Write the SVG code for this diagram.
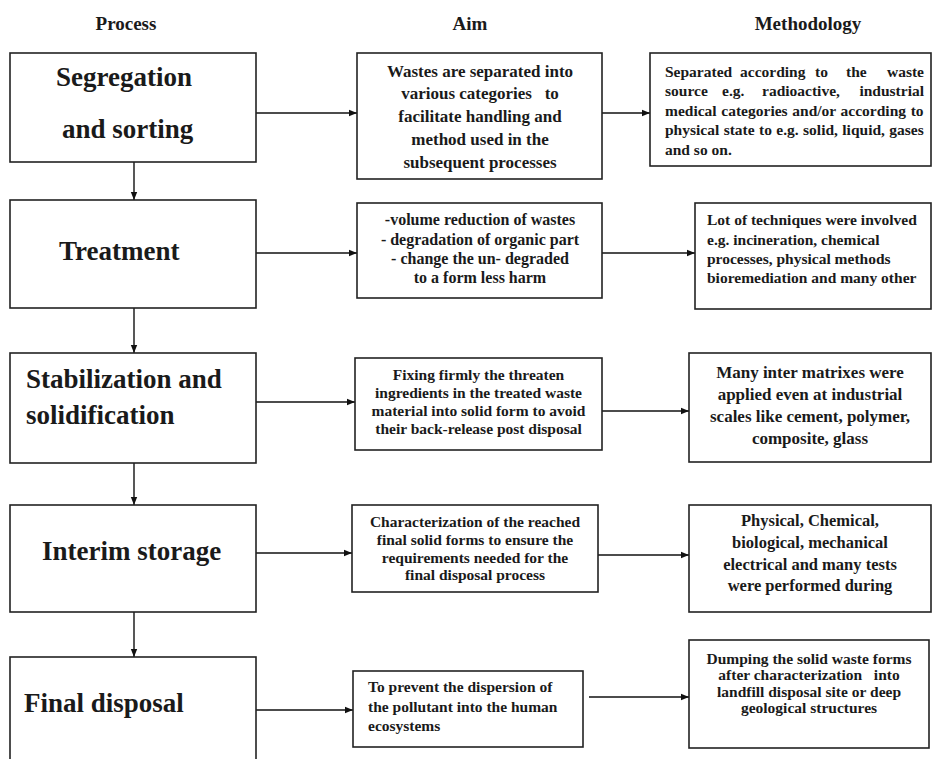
<svg xmlns="http://www.w3.org/2000/svg" width="932" height="759" viewBox="0 0 932 759">
<style>
text{font-family:"Liberation Serif","Times New Roman",serif;font-weight:bold;fill:#1a1a1a;white-space:pre}
.h{font-size:19px;text-anchor:middle}
.p{font-size:27px}
.c{text-anchor:middle}
.e{text-anchor:end}
.box{fill:#fff;stroke:#222;stroke-width:1.6}
.ln{stroke:#111;stroke-width:1.4;fill:none;marker-end:url(#ah)}
</style>
<defs>
<marker id="ah" viewBox="0 0 10 10" refX="10" refY="5" markerWidth="8" markerHeight="8" markerUnits="userSpaceOnUse" orient="auto">
<path d="M0,1 L10,5 L0,9 Z" fill="#111"/>
</marker>
</defs>
<rect width="932" height="759" fill="#fff"/>
<g id="headers">
<text class="h" x="126" y="30">Process</text>
<text class="h" x="470" y="30">Aim</text>
<text class="h" x="808" y="30">Methodology</text>
</g>
<g id="connectors">
<line class="ln" x1="256" y1="113" x2="357" y2="113"/>
<line class="ln" x1="602" y1="113" x2="650" y2="113"/>
<line class="ln" x1="256" y1="253" x2="357" y2="253"/>
<line class="ln" x1="602" y1="253" x2="695" y2="253"/>
<line class="ln" x1="256" y1="402" x2="355" y2="402"/>
<line class="ln" x1="602" y1="411" x2="689" y2="411"/>
<line class="ln" x1="256" y1="553" x2="352" y2="553"/>
<line class="ln" x1="598" y1="555" x2="689" y2="555"/>
<line class="ln" x1="256" y1="710" x2="353" y2="710"/>
<line class="ln" x1="589" y1="697" x2="689" y2="697"/>
<line class="ln" x1="134" y1="162" x2="134" y2="200"/>
<line class="ln" x1="134" y1="308" x2="134" y2="353"/>
<line class="ln" x1="134" y1="463" x2="134" y2="505"/>
<line class="ln" x1="134" y1="612" x2="134" y2="657"/>
</g>
<g id="p1">
<rect class="box" x="10" y="53" width="246" height="109"/>
<text class="p" x="56" y="86">Segregation</text>
<text class="p" x="62" y="138">and sorting</text>
</g>
<g id="a1">
<rect class="box" x="357" y="53" width="245" height="126"/>
<g class="c" style="font-size:17px">
<text x="480" y="77">Wastes are separated into</text>
<text x="480" y="99">various categories   to</text>
<text x="480" y="122">facilitate handling and</text>
<text x="480" y="145">method used in the</text>
<text x="480" y="168">subsequent processes</text>
</g>
</g>
<g id="m1">
<rect class="box" x="650" y="53" width="281" height="113"/>
<g style="font-size:15.5px">
<text y="77"><tspan x="665">Separated</tspan><tspan x="740">according</tspan><tspan x="815">to</tspan><tspan x="846">the</tspan></text>
<text class="e" x="924" y="77">waste</text>
<text y="96"><tspan x="665">source</tspan><tspan x="722">e.g.</tspan><tspan x="762">radioactive,</tspan></text>
<text class="e" x="924" y="96">industrial</text>
<text x="665" y="116" style="word-spacing:0.8px">medical categories and/or according to</text>
<text x="665" y="135" style="word-spacing:0.5px">physical state to e.g. solid, liquid, gases</text>
<text x="665" y="155">and so on.</text>
</g>
</g>
<g id="p2">
<rect class="box" x="10" y="200" width="246" height="108"/>
<text class="p" x="59" y="260">Treatment</text>
</g>
<g id="a2">
<rect class="box" x="357" y="203" width="245" height="95"/>
<g class="c" style="font-size:16px">
<text x="480" y="225">-volume reduction of wastes</text>
<text x="480" y="245">- degradation of organic part</text>
<text x="480" y="264">- change the un- degraded</text>
<text x="480" y="283">to a form less harm</text>
</g>
</g>
<g id="m2">
<rect class="box" x="695" y="203" width="236" height="106"/>
<g style="font-size:15.5px">
<text x="707" y="225">Lot of techniques were involved</text>
<text x="707" y="245">e.g. incineration, chemical</text>
<text x="707" y="264">processes, physical methods</text>
<text x="707" y="283">bioremediation and many other</text>
</g>
</g>
<g id="p3">
<rect class="box" x="10" y="353" width="246" height="110"/>
<text class="p" x="26" y="388">Stabilization and</text>
<text class="p" x="26" y="424">solidification</text>
</g>
<g id="a3">
<rect class="box" x="355" y="358" width="247" height="92"/>
<g class="c" style="font-size:15.5px">
<text x="478.5" y="380">Fixing firmly the threaten</text>
<text x="478.5" y="398">ingredients in the treated waste</text>
<text x="478.5" y="416">material into solid form to avoid</text>
<text x="478.5" y="434">their back-release post disposal</text>
</g>
</g>
<g id="m3">
<rect class="box" x="689" y="353" width="242" height="109"/>
<g class="c" style="font-size:17px">
<text x="810" y="378">Many inter matrixes were</text>
<text x="810" y="400">applied even at industrial</text>
<text x="810" y="422">scales like cement, polymer,</text>
<text x="810" y="444">composite, glass</text>
</g>
</g>
<g id="p4">
<rect class="box" x="10" y="505" width="246" height="107"/>
<text class="p" x="42" y="560">Interim storage</text>
</g>
<g id="a4">
<rect class="box" x="352" y="505" width="246" height="87"/>
<g class="c" style="font-size:15.5px">
<text x="475" y="527">Characterization of the reached</text>
<text x="475" y="545">final solid forms to ensure the</text>
<text x="475" y="563">requirements needed for the</text>
<text x="475" y="580">final disposal process</text>
</g>
</g>
<g id="m4">
<rect class="box" x="689" y="505" width="242" height="107"/>
<g class="c" style="font-size:16.5px">
<text x="810" y="526">Physical, Chemical,</text>
<text x="810" y="548">biological, mechanical</text>
<text x="810" y="570">electrical and many tests</text>
<text x="810" y="591">were performed during</text>
</g>
</g>
<g id="p5">
<rect class="box" x="10" y="657" width="246" height="110"/>
<text class="p" x="24" y="712">Final disposal</text>
</g>
<g id="a5">
<rect class="box" x="353" y="671" width="230" height="76"/>
<g style="font-size:15.5px">
<text x="368" y="692">To prevent the dispersion of</text>
<text x="368" y="712">the pollutant into the human</text>
<text x="368" y="731">ecosystems</text>
</g>
</g>
<g id="m5">
<rect class="box" x="689" y="640" width="240" height="108"/>
<g class="c" style="font-size:15.5px">
<text x="809" y="664">Dumping the solid waste forms</text>
<text x="809" y="680">after characterization   into</text>
<text x="809" y="697">landfill disposal site or deep</text>
<text x="809" y="713">geological structures</text>
</g>
</g>
</svg>
